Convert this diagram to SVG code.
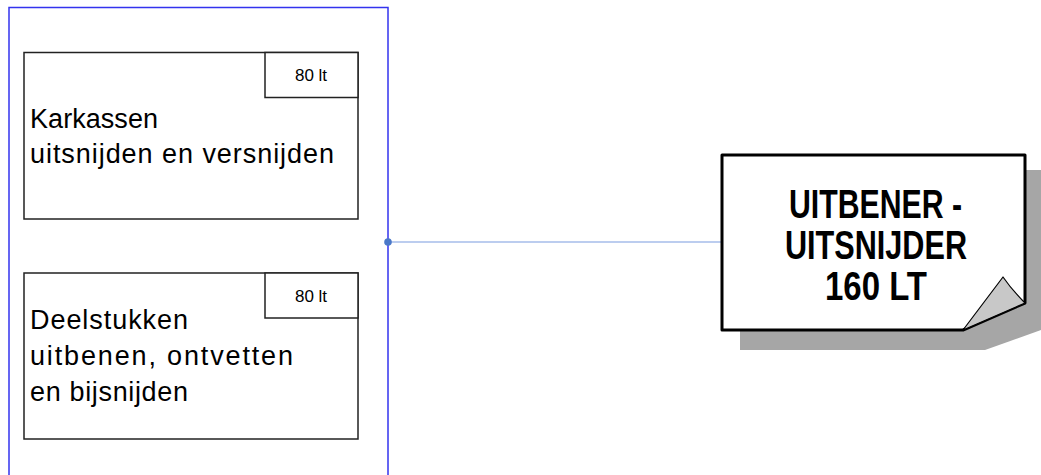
<svg xmlns="http://www.w3.org/2000/svg" width="1041" height="475" viewBox="0 0 1041 475">
<style>
.box{fill:#fff;stroke:#222;stroke-width:1.5}
.lbl{font-family:"Liberation Sans",Arial,sans-serif;font-size:27px;fill:#000}
.sm{font-family:"Liberation Sans",Arial,sans-serif;font-size:17px;fill:#000;text-anchor:middle}
.big{font-family:"Liberation Sans",Arial,sans-serif;font-size:40px;font-weight:bold;fill:#000}
</style>
<rect width="1041" height="475" fill="#fff"/>
<g id="container">
<rect x="9" y="7.5" width="379" height="480" fill="none" stroke="#3333ee" stroke-width="1.5"/>
</g>
<g id="connectors">
<line x1="388" y1="242" x2="722" y2="242" stroke="#7a9be0" stroke-width="1.2"/>
<circle cx="388" cy="242" r="3.8" fill="#4a78c8"/>
</g>
<g id="node1">
<rect class="box" x="24" y="52.5" width="334" height="166.5"/>
<rect class="box" x="265" y="52.5" width="93" height="45"/>
<text class="sm" x="311" y="81">80 lt</text>
<text class="lbl" x="30" y="127.5" textLength="128">Karkassen</text>
<text class="lbl" x="30" y="163" textLength="304">uitsnijden en versnijden</text>
</g>
<g id="node2">
<rect class="box" x="24" y="273" width="334" height="166"/>
<rect class="box" x="265" y="273" width="93" height="45"/>
<text class="sm" x="311" y="301.5">80 lt</text>
<text class="lbl" x="30" y="329" textLength="158">Deelstukken</text>
<text class="lbl" x="30" y="365" textLength="263">uitbenen, ontvetten</text>
<text class="lbl" x="30" y="400.5" textLength="158">en bijsnijden</text>
</g>
<g id="note">
<polygon points="740,170 1041,170 1041,330 985,350 740,350" fill="#a6a6a6"/>
<path d="M722,155 H1025 V303 L963,330 H722 Z" fill="#fff" stroke="#000" stroke-width="3" stroke-linejoin="round"/>
<path d="M963,330 L1003,277 Q1012,290 1025,303 Z" fill="#c8c8c8" stroke="#000" stroke-width="1.2" stroke-linejoin="round"/>
<text class="big" x="789" y="217.5" textLength="173" lengthAdjust="spacingAndGlyphs">UITBENER -</text>
<text class="big" x="785" y="259" textLength="182" lengthAdjust="spacingAndGlyphs">UITSNIJDER</text>
<text class="big" x="825" y="300" textLength="102" lengthAdjust="spacingAndGlyphs">160 LT</text>
</g>
</svg>
